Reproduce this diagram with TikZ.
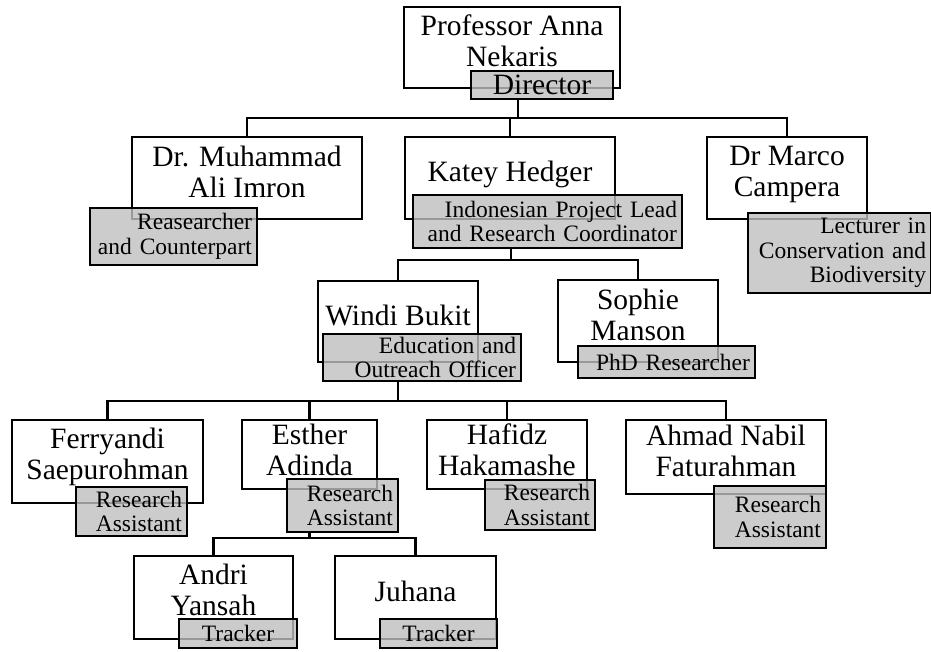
\documentclass[tikz,border=0pt]{standalone}
\usepackage{fontspec}
\setmainfont{Liberation Serif}

\newcommand{\namesize}{\fontsize{29.5}{31}\selectfont}
\newcommand{\rolesize}{\fontsize{23.5}{24.5}\selectfont}

\tikzset{
  namebox/.style={draw,rectangle,line width=2.6pt,fill=white,align=center,font=\namesize,inner sep=0pt,text depth=13pt},
  rolebox/.style={draw,rectangle,line width=2.6pt,fill=black!25,fill opacity=0.8,text opacity=1,draw opacity=1,font=\rolesize,inner xsep=5pt,inner ysep=0pt},
  link/.style={line width=2.6pt}
}

\begin{document}
\begin{tikzpicture}[x=1pt,y=-1pt]
\useasboundingbox (0,0) rectangle (931,651);
\clip (0,0) rectangle (931,651);

%Director
\node[namebox,minimum width=216pt,minimum height=81pt] (anna) at (512,47.5) {Professor Anna\\Nekaris};
\node[rolebox,font=\namesize,minimum width=142pt,minimum height=28pt] (annarole) at (542,85) {Director};

% Second level
\node[namebox,minimum width=230pt,minimum height=82pt] (muhammad) at (247,178) {Dr. Muhammad\\Ali Imron};
\node[rolebox,minimum width=167pt,minimum height=57pt,text width=157pt,align=right] (muhammadrole) at (173.5,236.5) {Reasearcher\\and Counterpart};

\node[namebox,minimum width=210pt,minimum height=82pt] (katey) at (510,178) {Katey Hedger};
\node[rolebox,minimum width=269pt,minimum height=53pt,text width=259pt,align=right] (kateyrole) at (547.5,221.5) {Indonesian Project Lead\\and Research Coordinator};

\node[namebox,minimum width=160pt,minimum height=82pt] (marco) at (787,178) {Dr Marco\\Campera};
\node[rolebox,minimum width=183pt,minimum height=80pt,text width=173pt,align=right] (marcorole) at (839.5,253) {Lecturer in\\Conservation and\\Biodiversity};

% Third level
\node[namebox,minimum width=160pt,minimum height=81pt] (windi) at (398,321.5) {Windi Bukit};
\node[rolebox,minimum width=198pt,minimum height=47pt,text width=188pt,align=right] (windirole) at (422,357.5) {Education and\\Outreach Officer};

\node[namebox,minimum width=160pt,minimum height=82pt] (sophie) at (638,321) {Sophie\\Manson};
\node[rolebox,minimum width=177pt,minimum height=32pt,text width=167pt,align=right] (sophierole) at (666.5,362) {PhD Researcher};

% Fourth level
\node[namebox,minimum width=191pt,minimum height=83pt,text depth=15pt] (ferry) at (107.5,461.5) {Ferryandi\\Saepurohman};
\node[rolebox,minimum width=111pt,minimum height=49pt,text width=101pt,align=right] (ferryrole) at (131.5,511.5) {Research\\Assistant};

\node[namebox,minimum width=135pt,minimum height=69pt,text depth=10pt] (esther) at (309.5,454.5) {Esther\\Adinda};
\node[rolebox,minimum width=111pt,minimum height=53pt,text width=101pt,align=right] (estherrole) at (342.5,505.5) {Research\\Assistant};

\node[namebox,minimum width=160pt,minimum height=69pt,text depth=10pt] (hafidz) at (507,454.5) {Hafidz\\Hakamashe};
\node[rolebox,minimum width=110pt,minimum height=50pt,text width=100pt,align=right] (hafidzrole) at (540,505) {Research\\Assistant};

\node[namebox,minimum width=200pt,minimum height=74pt] (ahmad) at (726,457) {Ahmad Nabil\\Faturahman};
\node[rolebox,minimum width=112pt,minimum height=62pt,text width=102pt,align=right] (ahmadrole) at (770,517) {Research\\Assistant};

% Trackers
\node[namebox,minimum width=159pt,minimum height=83pt,text depth=15pt] (andri) at (213.5,597.5) {Andri\\Yansah};
\node[rolebox,minimum width=118pt,minimum height=29pt] (andrirole) at (238,633.5) {Tracker};

\node[namebox,minimum width=161pt,minimum height=83pt] (juhana) at (415.5,597.5) {Juhana};
\node[rolebox,minimum width=117pt,minimum height=29pt] (juhanarole) at (438.5,633.5) {Tracker};

% Connections
\coordinate (bus1) at (518,118);
\draw[link] (annarole.south -| bus1) -- (bus1);
\draw[link] (muhammad.north) |- (bus1) -| (marco.north);
\draw[link] (katey.north) -- (katey.north |- bus1);

\coordinate (bus2) at (511,260);
\draw[link] (kateyrole.south -| bus2) -- (bus2);
\draw[link] (windi.north) |- (bus2) -| (sophie.north);

\coordinate (bus3) at (398,401);
\draw[link] (windirole.south -| bus3) -- (bus3);
\draw[link] (ferry.north) |- (bus3) -| (ahmad.north);
\draw[link] (esther.north) -- (esther.north |- bus3);
\draw[link] (hafidz.north) -- (hafidz.north |- bus3);

\coordinate (bus4) at (309.5,538);
\draw[link] (estherrole.south -| bus4) -- (bus4);
\draw[link] (andri.north) |- (bus4) -| (juhana.north);

\end{tikzpicture}
\end{document}
